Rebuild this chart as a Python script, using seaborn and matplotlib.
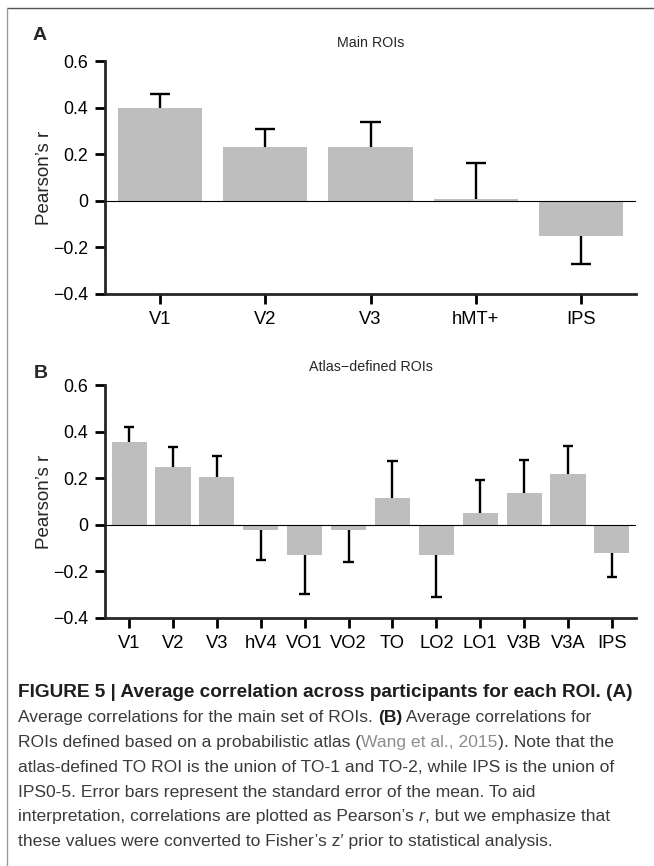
import numpy as np
import pandas as pd
import seaborn as sns
import matplotlib.pyplot as plt
from matplotlib.lines import Line2D

# Panel A: main ROIs (mean Pearson's r and SEM)
main_rois = ['V1', 'V2', 'V3', 'hMT+', 'IPS']
main_r = [0.400, 0.229, 0.229, 0.009, -0.149]
main_sem = [0.059, 0.080, 0.111, 0.154, 0.124]

# Panel B: atlas-defined ROIs
atlas_rois = ['V1', 'V2', 'V3', 'hV4', 'VO1', 'VO2', 'TO', 'LO2', 'LO1', 'V3B', 'V3A', 'IPS']
atlas_r = [0.354, 0.250, 0.204, -0.021, -0.129, -0.021, 0.113, -0.130, 0.049, 0.136, 0.217, -0.121]
atlas_sem = [0.065, 0.086, 0.090, 0.129, 0.168, 0.139, 0.161, 0.181, 0.142, 0.144, 0.120, 0.102]

y_ticks = [-0.4, -0.2, 0, 0.2, 0.4, 0.6]
y_ticklabels = ['\u22120.4', '\u22120.2', '0', '0.2', '0.4', '0.6']

sns.set_style('ticks')
plt.rcParams['font.family'] = ['Liberation Sans', 'DejaVu Sans']

W, H = 654, 866
fig = plt.figure(figsize=(W / 100, H / 100), dpi=100)


def px_axes(left, top, right, bottom):
    return fig.add_axes([left / W, 1 - bottom / H, (right - left) / W, (bottom - top) / H])


def draw_panel(ax, rois, r, sem, title, cap_half, pad_units):
    df = pd.DataFrame({'roi': rois, 'r': r})
    sns.barplot(data=df, x='roi', y='r', order=rois, color='#bebebe', saturation=1,
                width=0.8, errorbar=None, linewidth=0, ax=ax, zorder=2)
    ax.axhline(0, color='black', lw=0.8, zorder=3)
    # one-sided error bars, pointing away from zero
    x = np.arange(len(rois))
    r = np.array(r)
    tips = r + np.sign(r) * np.array(sem)
    ax.vlines(x, r, tips, color='black', lw=1.7, zorder=4)
    ax.hlines(tips, x - cap_half, x + cap_half, color='black', lw=1.7, zorder=4)

    ax.set_xlim(-pad_units, len(rois) - 1 + pad_units)
    ax.set_ylim(-0.4, 0.6)
    ax.set_yticks(y_ticks)
    ax.set_yticklabels(y_ticklabels)
    ax.set_xlabel('')
    ax.set_ylabel('Pearson\u2019s r', fontsize=13.5)
    ax.yaxis.set_label_coords(-0.098, 0.5)
    ax.set_title(title, fontsize=10.3, pad=10)
    sns.despine(ax=ax)
    for s in ['left', 'bottom']:
        ax.spines[s].set_linewidth(2)
    ax.tick_params(axis='both', width=2, length=7, colors='black')
    ax.tick_params(axis='y', pad=5, labelsize=12.8)
    ax.tick_params(axis='x', pad=5, labelsize=13.2)


axA = px_axes(105, 61, 636, 294)
draw_panel(axA, main_rois, main_r, main_sem, 'Main ROIs', 0.095, 0.52)

axB = px_axes(105, 385, 636, 618)
draw_panel(axB, atlas_rois, atlas_r, atlas_sem, 'Atlas\u2212defined ROIs', 0.12, 0.55)

fig.text(33 / W, 1 - 40 / H, 'A', fontsize=14, fontweight='bold', va='baseline')
fig.text(34 / W, 1 - 378 / H, 'B', fontsize=14, fontweight='bold', va='baseline')

# frame around the figure
fig.add_artist(Line2D([7 / W, 1], [1 - 8 / H, 1 - 8 / H], color='#555555', lw=1))
fig.add_artist(Line2D([7 / W, 7 / W], [1 - 8 / H, 0], color='#999999', lw=1))

# caption
cap_font = ['Liberation Sans', 'DejaVu Sans']
cap_size = 12.6
txt_col = '#3a3a3a'
renderer = fig.canvas.get_renderer()


def seg_width(s, size, **kw):
    t1 = fig.text(0, 0, s + 'x', fontsize=size, family=cap_font, **kw)
    t2 = fig.text(0, 0, 'x', fontsize=size, family=cap_font, **kw)
    w = t1.get_window_extent(renderer).width - t2.get_window_extent(renderer).width
    t1.remove()
    t2.remove()
    return w


def rich_line(y_px, parts, x_px=18):
    x = x_px
    for s, kw in parts:
        kw = dict(kw)
        kw.setdefault('color', txt_col)
        size = kw.pop('size', cap_size)
        fig.text(x / W, 1 - y_px / H, s, fontsize=size, family=cap_font, va='baseline', **kw)
        x += seg_width(s, size, **{k: v for k, v in kw.items() if k != 'color'})


bold = {'fontweight': 'bold', 'color': '#1e1e1e'}
rich_line(697, [('FIGURE 5 | Average correlation across participants for each ROI. (A)',
                 dict(bold, size=13.7))])
rich_line(722, [('Average correlations for the main set of ROIs. ', {}), ('(B)', bold),
                (' Average correlations for', {})])
rich_line(747, [('ROIs defined based on a probabilistic atlas (', {}),
                ('Wang et al., 2015', {'color': '#8c8c8c'}), ('). Note that the', {})])
rich_line(772, [('atlas-defined TO ROI is the union of TO-1 and TO-2, while IPS is the union of', {})])
rich_line(797, [('IPS0-5. Error bars represent the standard error of the mean. To aid', {})])
rich_line(821, [('interpretation, correlations are plotted as Pearson\u2019s ', {}),
                ('r', {'style': 'italic'}), (', but we emphasize that', {})])
rich_line(846, [('these values were converted to Fisher\u2019s z\u2032 prior to statistical analysis.', {})])

fig.savefig('out.png', dpi=100)
